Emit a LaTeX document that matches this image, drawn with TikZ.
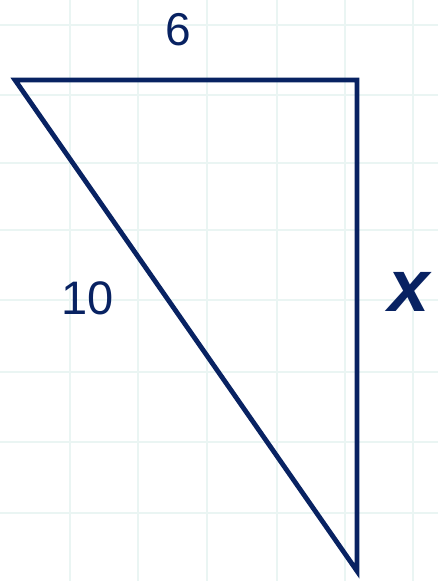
\documentclass[tikz,border=0pt]{standalone}
\usepackage{fontspec}
\setmainfont{Liberation Sans}
\definecolor{navy}{RGB}{8,34,98}
\definecolor{gridc}{RGB}{234,245,243}
\begin{document}
\begin{tikzpicture}[x=1pt,y=-1pt,
  gridline/.style={draw=gridc,line width=2pt},
  edge/.style={draw=navy,line width=4.8pt,line join=miter},
  lbl/.style={text=navy,inner sep=0pt}]
\useasboundingbox (0,0) rectangle (438,581);
\fill[white] (0,0) rectangle (438,581);
\foreach \gx in {70,138,207,277,345,413} \draw[gridline] (\gx,0) -- (\gx,581);
\foreach \gy in {25,95,163,230,300,372,442,513} \draw[gridline] (0,\gy) -- (438,\gy);
\coordinate (A) at (15,80);
\coordinate (B) at (357,80);
\coordinate (C) at (357,571);
\draw[edge] (A) -- (B) -- (C) -- cycle;
\node[lbl,font=\fontsize{46}{46}\selectfont] (six) at (178,30) {6};
\node[lbl,font=\fontsize{47}{47}\selectfont] (ten) at (88,298) {10};
\node[lbl,font=\fontsize{74}{74}\bfseries\itshape] (x) at (409,292) {x};
\end{tikzpicture}
\end{document}
